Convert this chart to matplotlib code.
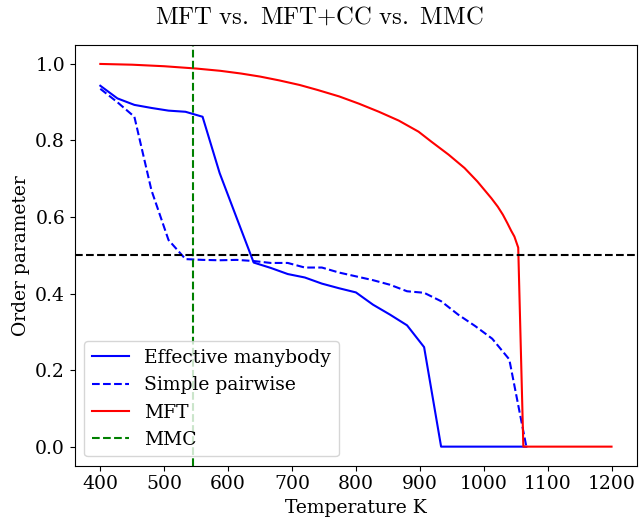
import matplotlib
matplotlib.use("Agg")
import matplotlib.pyplot as plt

plt.rcParams['font.family'] = 'DejaVu Serif'
plt.rcParams['mathtext.fontset'] = 'cm'

# temperature grid of the Monte Carlo runs
temps = [400.0, 426.7, 453.3, 480.0, 506.7, 533.3, 560.0, 586.7, 613.3, 640.0,
         666.7, 693.3, 720.0, 746.7, 773.3, 800.0, 826.7, 853.3, 880.0, 906.7,
         933.3, 960.0, 986.7, 1013.3, 1040.0, 1066.7]

manybody = [0.943, 0.910, 0.893, 0.885, 0.878, 0.875, 0.862, 0.715, 0.598, 0.481,
            0.467, 0.451, 0.442, 0.426, 0.414, 0.403, 0.371, 0.345, 0.317, 0.260,
            0.0, 0.0, 0.0, 0.0, 0.0, 0.0]

pairwise = [0.935, 0.900, 0.862, 0.670, 0.540, 0.490, 0.488, 0.487, 0.488, 0.485,
            0.480, 0.480, 0.468, 0.468, 0.455, 0.445, 0.435, 0.423, 0.406, 0.402,
            0.380, 0.345, 0.315, 0.282, 0.228, 0.0]

# mean field theory
mft_temps = [400, 450, 500, 525, 550, 588, 620, 650, 680, 712, 740, 774, 805,
             836, 867, 898, 918, 945, 970, 990, 1001, 1012, 1022, 1030, 1037,
             1043, 1048, 1054, 1062, 1100, 1150, 1200]
mft_vals = [1.0, 0.998, 0.994, 0.991, 0.988, 0.982, 0.975, 0.967, 0.957, 0.945,
            0.932, 0.915, 0.896, 0.875, 0.852, 0.823, 0.797, 0.763, 0.728, 0.693,
            0.671, 0.649, 0.627, 0.606, 0.584, 0.564, 0.549, 0.520, 0.0, 0.0,
            0.0, 0.0]

mmc_tc = 545
half = 0.5

fig = plt.figure(figsize=(6.39, 5.21), dpi=100)
ax = fig.add_axes([0.117, 0.106, 0.880, 0.808])

ax.plot(temps, manybody, color='blue', label='Effective manybody')
ax.plot(temps, pairwise, color='blue', linestyle='--', label='Simple pairwise')
ax.plot(mft_temps, mft_vals, color='red', label='MFT')
ax.axvline(mmc_tc, color='green', linestyle='--', label='MMC')
ax.axhline(half, color='black', linestyle='--')

ax.tick_params(labelsize=13.5)
ax.set_xlabel('Temperature K', fontsize=13.5)
ax.set_ylabel('Order parameter', fontsize=13.5)
ax.legend(loc='lower left', fontsize=13.5)
fig.suptitle(r'$\mathrm{MFT\ vs.\ MFT{+}CC\ vs.\ MMC}$', fontsize=17.8, y=0.99)

fig.savefig('out.png', dpi=100)
